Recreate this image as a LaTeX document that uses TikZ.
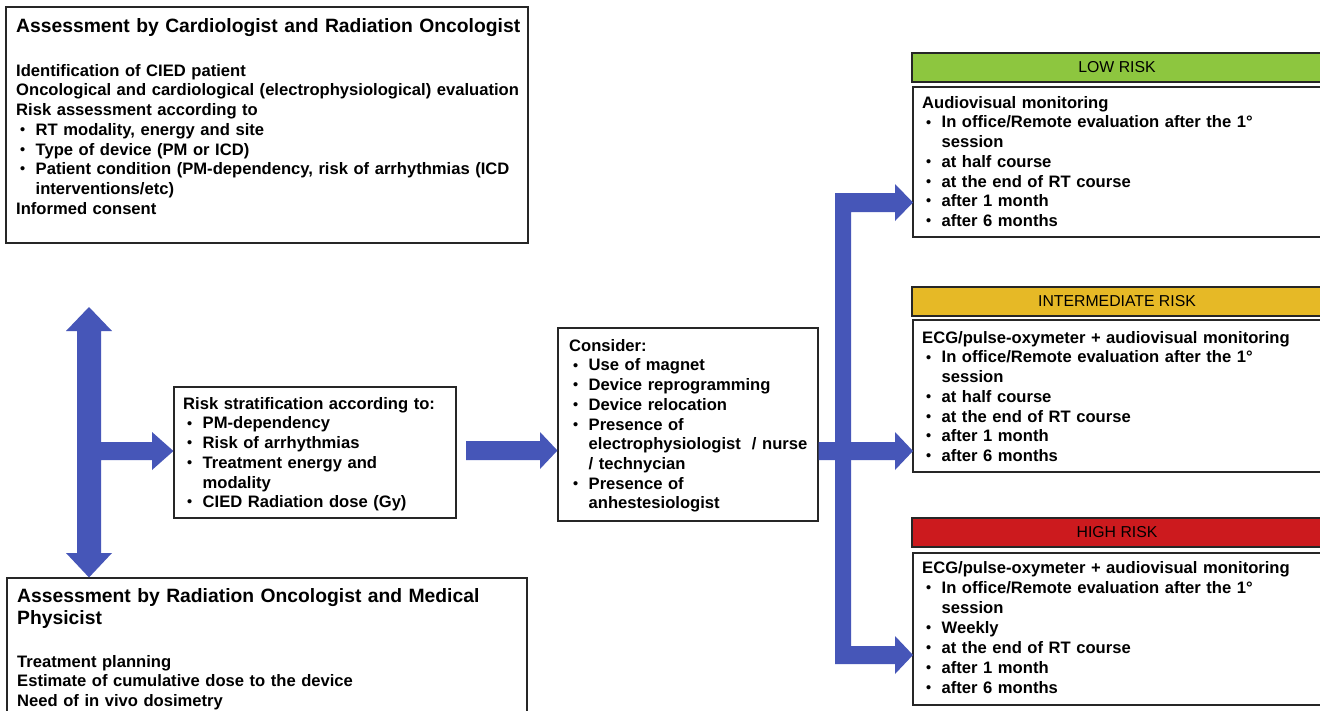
\documentclass[tikz,border=0pt]{standalone}
\usepackage{fontspec}
\setmainfont{Liberation Sans}
\setlength{\parindent}{0pt}
\definecolor{arrowblue}{RGB}{70,86,184}
\definecolor{lowgreen}{RGB}{141,198,63}
\definecolor{midgold}{RGB}{230,185,38}
\definecolor{highred}{RGB}{204,26,30}
\newcommand{\bul}{\makebox[19.5pt][l]{\hspace{4pt}\raisebox{0.9pt}{\fontsize{14.5}{14.5}\selectfont\textbullet}}}
\newcommand{\cont}{\hspace*{19.5pt}}
\newcommand{\fs}{\rule{0pt}{14pt}}
\tikzset{
  box/.style={draw=black!85, line width=1.1pt, inner sep=0pt},
  bodytext/.style={anchor=north west, inner sep=0pt, text width=#1, align=left,
    font=\bfseries\fontsize{16.6}{19.7}\selectfont},
  titletext/.style={anchor=north west, inner sep=0pt, text width=#1, align=left,
    font=\bfseries\fontsize{19.3}{22}\selectfont},
  hdr/.style={draw=black!85, line width=1.1pt, inner sep=0pt, fill=#1,
    minimum width=410pt, minimum height=29pt, font=\fontsize{15.8}{18}\selectfont},
  blockarrow/.style={fill=arrowblue, draw=none},
}
\begin{document}
\begin{tikzpicture}[x=1pt,y=-1pt]
\useasboundingbox (0,0) rectangle (1320,710);
\clip (0,0) rectangle (1320,710);
\fill[white] (0,0) rectangle (1320,710);

% ---------- boxes ----------
\node[box, minimum width=522pt, minimum height=236pt] (top) at (267,125) {};
\node[box, minimum width=520pt, minimum height=152pt] (bottom) at (267,654) {};
\node[box, minimum width=282pt, minimum height=131pt] (risk) at (315,452.5) {};
\node[box, minimum width=260pt, minimum height=193pt] (consider) at (688,424.5) {};

\node[hdr=lowgreen] (lowh) at (1117,67.5) {LOW RISK};
\node[box, minimum width=409pt, minimum height=150pt] (low) at (1117.5,162) {};
\node[hdr=midgold] (midh) at (1117,301.5) {INTERMEDIATE RISK};
\node[box, minimum width=409pt, minimum height=152pt] (mid) at (1117.5,396) {};
\node[hdr=highred] (highh) at (1117,532.5) {HIGH RISK};
\node[box, minimum width=409pt, minimum height=152pt] (high) at (1117.5,629) {};

% ---------- texts ----------
\node[titletext=510pt] (topT) at (16,18) {\fs Assessment by Cardiologist and Radiation Oncologist};
\node[bodytext=510pt] (topB) at (16,62) {\fs Identification of CIED patient\\
Oncological and cardiological (electrophysiological) evaluation\\
Risk assessment according to\\
\bul RT modality, energy and site\\
\bul Type of device (PM or ICD)\\
\bul Patient condition (PM-dependency, risk of arrhythmias (ICD\\
\cont interventions/etc)\\
Informed consent};

\node[titletext=505pt] (botT) at (17,588) {\fs Assessment by Radiation Oncologist and Medical\\Physicist};
\node[bodytext=505pt] (botB) at (17,653) {\fs Treatment planning\\
Estimate of cumulative dose to the device\\
Need of in vivo dosimetry};

\node[bodytext=270pt] (riskT) at (183,395) {\fs Risk stratification according to:\\
\bul PM-dependency\\
\bul Risk of arrhythmias\\
\bul Treatment energy and\\
\cont modality\\
\bul CIED Radiation dose (Gy)};

\node[bodytext=248pt] (considerT) at (569,337) {\fs Consider:\\
\bul Use of magnet\\
\bul Device reprogramming\\
\bul Device relocation\\
\bul Presence of\\
\cont electrophysiologist \ / nurse\\
\cont / technycian\\
\bul Presence of\\
\cont anhestesiologist};

\node[bodytext=395pt] (lowT) at (922,94) {\fs Audiovisual monitoring\\
\bul In office/Remote evaluation after the 1°\\
\cont session\\
\bul at half course\\
\bul at the end of RT course\\
\bul after 1 month\\
\bul after 6 months};

\node[bodytext=395pt] (midT) at (922,329) {\fs ECG/pulse-oxymeter + audiovisual monitoring\\
\bul In office/Remote evaluation after the 1°\\
\cont session\\
\bul at half course\\
\bul at the end of RT course\\
\bul after 1 month\\
\bul after 6 months};

\node[bodytext=395pt, font=\bfseries\fontsize{16.6}{20.1}\selectfont] (highT) at (922,559) {\fs ECG/pulse-oxymeter + audiovisual monitoring\\
\bul In office/Remote evaluation after the 1°\\
\cont session\\
\bul Weekly\\
\bul at the end of RT course\\
\bul after 1 month\\
\bul after 6 months};

% ---------- block arrows ----------
% double vertical arrow with branch to risk stratification
\fill[blockarrow] (89,307) -- (112,331) -- (101,331) -- (101,442) -- (152,442) -- (152,432)
  -- (risk.west |- 0,451) -- (152,470) -- (152,460) -- (101,460) -- (101,553) -- (112,553)
  -- (bottom.north -| 89,0) -- (66,553) -- (77,553) -- (77,331) -- (66,331) -- cycle;

% risk -> consider
\fill[blockarrow] (466,441) -- (540,441) -- (540,432) -- (consider.west |- 0,450.5)
  -- (540,469) -- (540,460) -- (466,460) -- cycle;

% consider -> three risk levels
\fill[blockarrow] (835,193) -- (895,193) -- (895,184) -- (913,202.5) -- (895,221) -- (895,212)
  -- (851,212) -- (851,646) -- (895,646) -- (895,636) -- (913,655) -- (895,674) -- (895,664)
  -- (835,664) -- cycle;
\fill[blockarrow] (consider.east |- 0,442) -- (895,442) -- (895,432) -- (913,451)
  -- (895,470) -- (895,460) -- (consider.east |- 0,460) -- cycle;
\end{tikzpicture}
\end{document}
